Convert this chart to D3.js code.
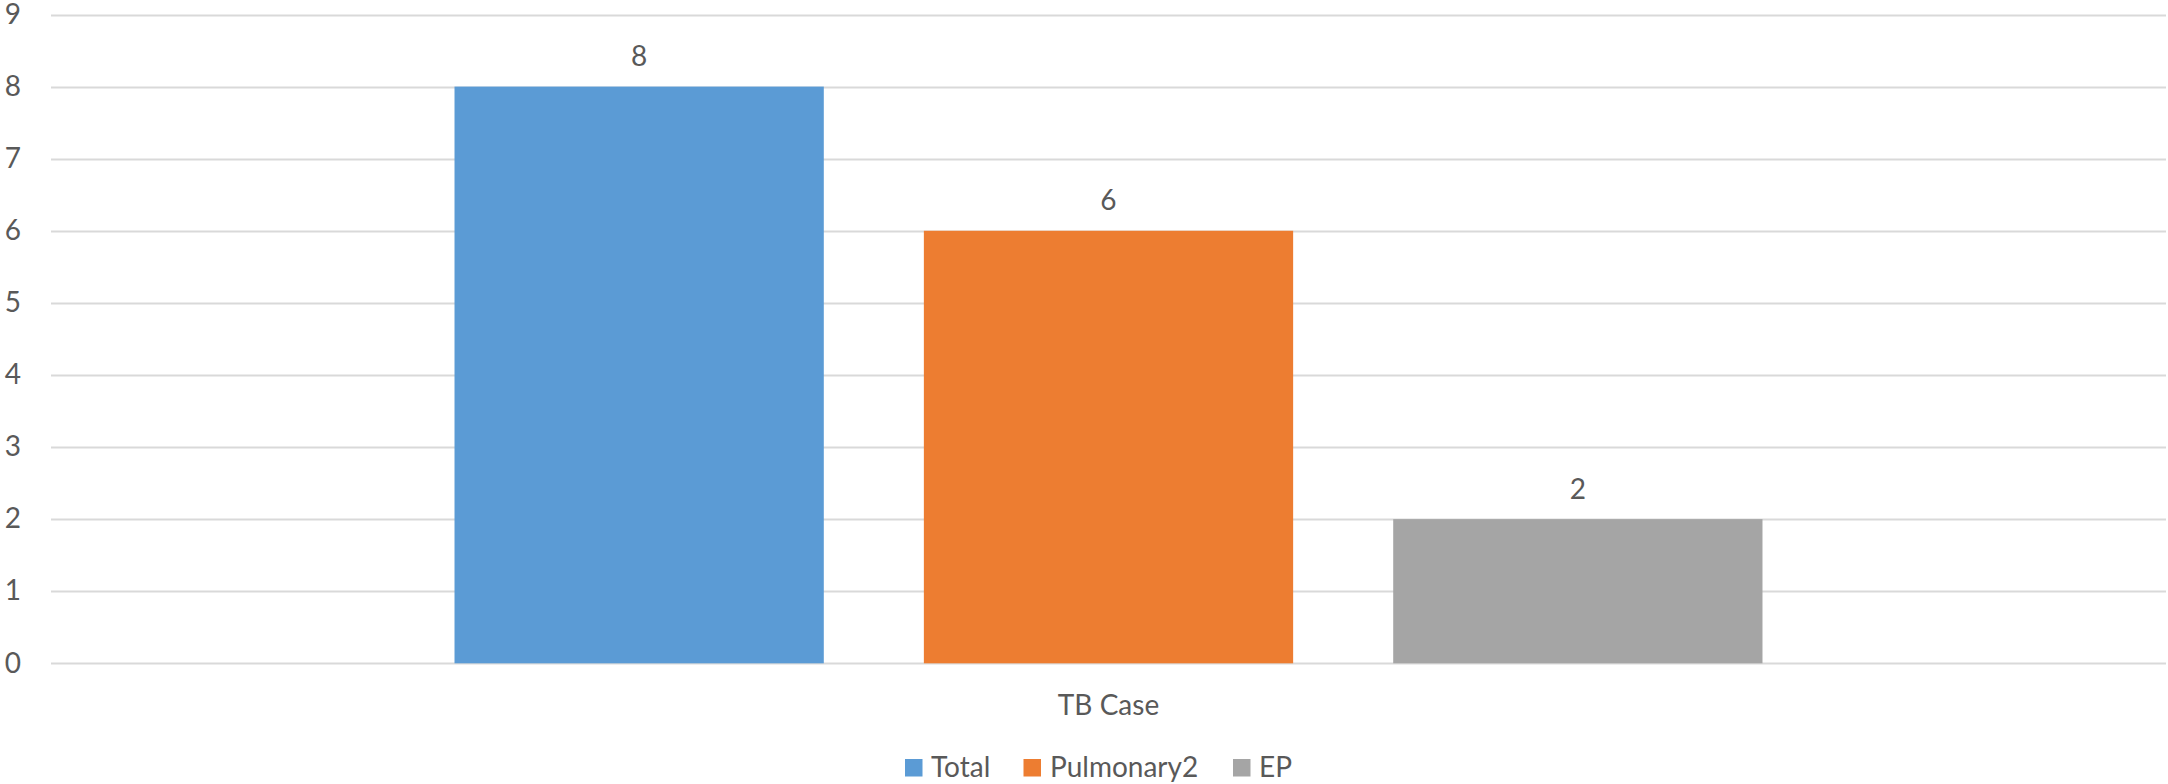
<!DOCTYPE html>
<html>
<head>
<meta charset="utf-8">
<script src="https://cdn.jsdelivr.net/npm/d3@7"></script>
<style>
  html, body { margin: 0; padding: 0; background: #fff; }
  svg { display: block; }
  text { font-family: Lato, "Open Sans", sans-serif; fill: #595959; }
</style>
</head>
<body>
<script>
const categories = ["TB Case"];
const seriesNames = ["Total", "Pulmonary2", "EP"];
const seriesValues = [8, 6, 2];
const seriesColors = ["#5B9BD5", "#ED7D31", "#A5A5A5"];
const yTicks = [0, 1, 2, 3, 4, 5, 6, 7, 8, 9];

const W = 2168, H = 784;
const plot = { left: 51, right: 2166, top: 14.5, bottom: 663.3 };

const svg = d3.select("body").append("svg").attr("width", W).attr("height", H);

const y = d3.scaleLinear().domain([0, 9]).range([plot.bottom, plot.top]);
const x0 = d3.scaleBand().domain(categories).range([plot.left, plot.right])
  .paddingInner(0).paddingOuter(0.3085);
const x1 = d3.scaleBand().domain(seriesNames).range([0, x0.bandwidth()])
  .paddingInner(0.2132).paddingOuter(0);

// gridlines
svg.append("g").selectAll("line").data(yTicks).join("line")
  .attr("x1", plot.left).attr("x2", plot.right)
  .attr("y1", d => Math.round(y(d)) + 0.5).attr("y2", d => Math.round(y(d)) + 0.5)
  .attr("stroke", "#D9D9D9").attr("stroke-width", 2);

// y tick labels
svg.append("g").selectAll("text").data(yTicks).join("text")
  .attr("x", 21).attr("y", d => y(d)).attr("dy", "0.33em")
  .attr("text-anchor", "end").attr("font-size", 28)
  .text(d => d);

// bars
const g = svg.append("g");
categories.forEach(cat => {
  const grp = g.append("g").attr("transform", `translate(${x0(cat)},0)`);
  grp.selectAll("rect").data(seriesNames).join("rect")
    .attr("x", (d) => x1(d))
    .attr("width", x1.bandwidth())
    .attr("y", (d, i) => y(seriesValues[i]))
    .attr("height", (d, i) => y(0) - y(seriesValues[i]))
    .attr("fill", (d, i) => seriesColors[i]);
  grp.selectAll("text").data(seriesNames).join("text")
    .attr("x", d => x1(d) + x1.bandwidth() / 2)
    .attr("y", (d, i) => y(seriesValues[i]) - 20.5)
    .attr("text-anchor", "middle").attr("font-size", 28)
    .text((d, i) => seriesValues[i]);
});

// category label
svg.append("g").selectAll("text").data(categories).join("text")
  .attr("x", d => x0(d) + x0.bandwidth() / 2).attr("y", 715)
  .attr("text-anchor", "middle").attr("font-size", 28)
  .text(d => d);

// legend
const legendItems = [
  { sq: 905, tx: 931 },
  { sq: 1023.5, tx: 1050 },
  { sq: 1233, tx: 1259 }
];
const lg = svg.append("g");
seriesNames.forEach((s, i) => {
  lg.append("rect").attr("x", legendItems[i].sq).attr("y", 759)
    .attr("width", 17.5).attr("height", 17.5).attr("fill", seriesColors[i]);
  lg.append("text").attr("x", legendItems[i].tx).attr("y", 777)
    .attr("font-size", 28).text(s);
});
</script>
</body>
</html>
